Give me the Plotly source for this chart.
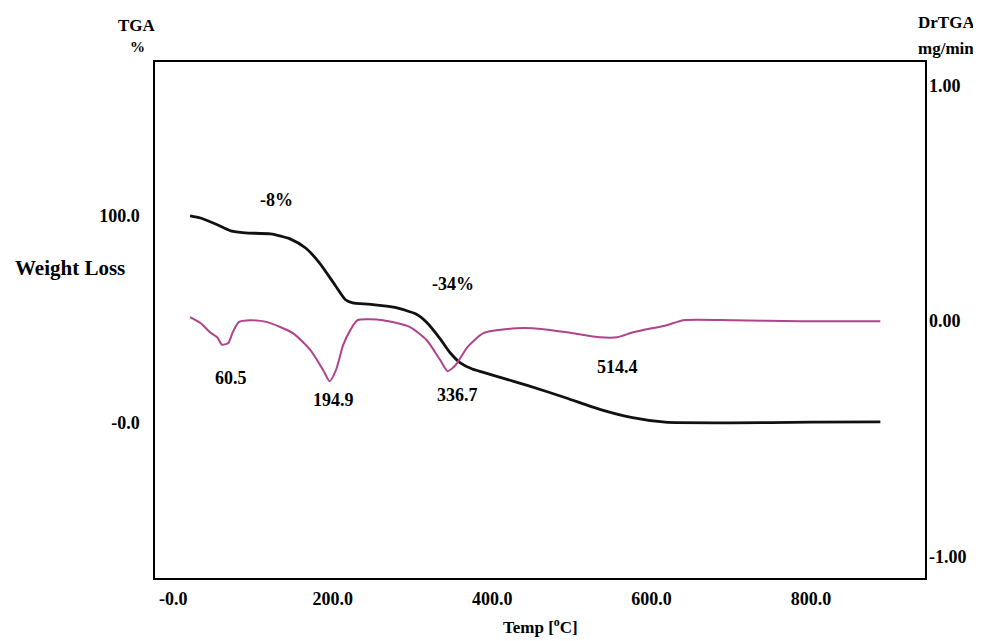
import plotly.graph_objects as go

# TGA curve (weight %, left axis)
tga_temp = [21, 34, 53, 72, 90, 122, 147, 166, 184, 203, 216, 225, 247, 278, 305, 318,
            335, 347, 360, 375, 388, 410, 445, 493, 535, 576, 617, 700, 800, 887]
tga_weight = [100, 99.0, 96.1, 92.8, 91.8, 91.3, 88.8, 84.5, 77.0, 66.5, 59.5, 58.0, 57.3, 55.8,
              52.5, 48.5, 40.5, 34.0, 29.0, 26.0, 24.5, 22.0, 18.0, 12.0, 6.5, 2.5, 0.3, 0.0, 0.3, 0.5]

# DrTGA curve (mg/min, right axis)
dtg_temp = [21, 34, 46, 55, 61, 69, 74, 82, 97, 118, 150, 172, 188, 196, 204, 213, 222, 231,
            263, 297, 318, 335, 344, 350, 356, 369, 389, 431, 451, 494, 535, 557, 577, 619, 640,
            702, 786, 887]
dtg_value = [0.017, -0.008, -0.047, -0.068, -0.100, -0.093, -0.051, -0.004, 0.004, -0.004,
             -0.051, -0.123, -0.208, -0.255, -0.208, -0.102, -0.038, 0.004, 0.004, -0.025,
             -0.081, -0.166, -0.212, -0.200, -0.178, -0.110, -0.051, -0.030, -0.030, -0.047,
             -0.068, -0.068, -0.047, -0.017, 0.004, 0.004, 0.0, 0.0]

x_ticks = [0, 200, 400, 600, 800]
x_tick_text = ["-0.0", "200.0", "400.0", "600.0", "800.0"]
y_ticks = [100, 0]
y_tick_text = ["100.0", "-0.0"]
y2_ticks = [1, 0, -1]
y2_tick_text = ["1.00", "0.00", "-1.00"]

step_labels = ["-8%", "-34%"]
peak_labels = ["60.5", "194.9", "336.7", "514.4"]

FONT = "Liberation Serif"

fig = go.Figure()
fig.add_trace(go.Scatter(x=dtg_temp, y=dtg_value, mode="lines", yaxis="y2",
                         line=dict(color="#B0438A", width=2, shape="spline", smoothing=0.6),
                         showlegend=False))
fig.add_trace(go.Scatter(x=tga_temp, y=tga_weight, mode="lines",
                         line=dict(color="#111111", width=2.8, shape="spline", smoothing=0.6),
                         showlegend=False))

tick_font = dict(family=FONT, size=18, color="black", weight="bold")

# page body has an 8px margin, so the figure is drawn 8px right and down
fig.update_layout(
    width=973, height=633,
    margin=dict(l=147, r=56, t=54, b=63),
    paper_bgcolor="white", plot_bgcolor="white",
    font=dict(family=FONT, color="black"),
    xaxis=dict(range=[-23, 943], tickvals=x_ticks, ticktext=x_tick_text, showgrid=False,
               zeroline=False, showline=True, mirror=True, linecolor="black", linewidth=1.5,
               ticks="", tickfont=tick_font, ticklabelstandoff=4, automargin=False),
    yaxis=dict(range=[-75, 174.4], tickvals=y_ticks, ticktext=y_tick_text, showgrid=False,
               zeroline=False, showline=True, mirror=True, linecolor="black", linewidth=1.5,
               ticks="", tickfont=tick_font, ticklabelstandoff=10, automargin=False),
    yaxis2=dict(range=[-1.09, 1.10], tickvals=y2_ticks, ticktext=y2_tick_text, showgrid=False,
                zeroline=False, overlaying="y", side="right", showline=False,
                ticks="", tickfont=tick_font, ticklabelstandoff=3, automargin=False),
)

bold = lambda s: "<b>" + s + "</b>"
ann_font = dict(family=FONT, size=18, color="black")

step_pos = [(129, 107.7), (351, 67.1)]
for t, (x, y) in zip(step_labels, step_pos):
    fig.add_annotation(x=x, y=y, xref="x", yref="y", text=bold(t), showarrow=False, font=ann_font)

peak_pos = [(72, 21.7), (201, 11.1), (356, 13.5), (557, 27.1)]
for t, (x, y) in zip(peak_labels, peak_pos):
    fig.add_annotation(x=x, y=y, xref="x", yref="y", text=bold(t), showarrow=False, font=ann_font)

# axis titles, placed by screen pixel and converted to paper coordinates
pl, pr, pt, pb = 155, 925, 62, 578
titles = [
    ("TGA", 137, 25, 17),
    ("%", 137, 47, 15),
    ("Weight Loss", 70, 268, 21),
    ("DrTGA", 946, 22, 17),
    ("mg/min", 946, 49, 17),
    ("Temp [<sup>o</sup>C]", 540, 626, 17),
]
for text, px, py, size in titles:
    fig.add_annotation(x=(px - pl) / (pr - pl), y=(pb - py) / (pb - pt), xref="paper", yref="paper",
                       xanchor="center", yanchor="middle", text=bold(text), showarrow=False,
                       font=dict(family=FONT, size=size, color="black"))

fig.write_html("out.html")
